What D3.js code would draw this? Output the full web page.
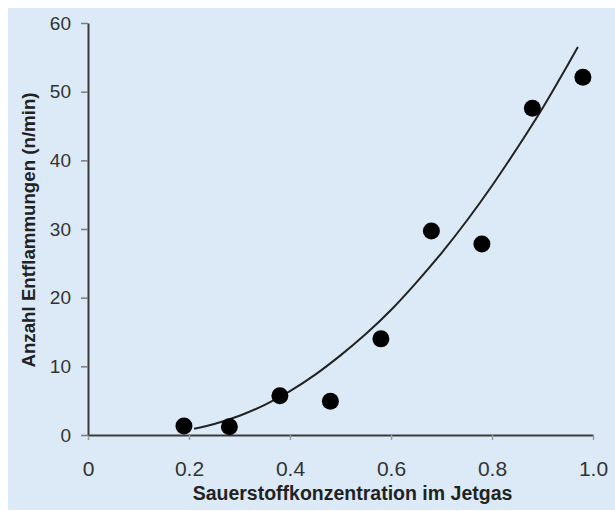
<!DOCTYPE html>
<html>
<head>
<meta charset="utf-8">
<script src="https://cdn.jsdelivr.net/npm/d3@7"></script>
<style>
  body { margin: 0; background: #fff; }
  svg { display: block; }
</style>
</head>
<body>
<div id="chart"></div>
<script>
// Measured points: oxygen concentration vs. ignitions per minute
var concentration = [0.19, 0.28, 0.38, 0.48, 0.58, 0.68, 0.78, 0.88, 0.98];
var ignitions = [1.3, 1.2, 5.7, 4.9, 14.0, 29.7, 27.8, 47.6, 52.1];

// Trend curve
var curveX = [0.21, 0.25, 0.30, 0.35, 0.40, 0.45, 0.50, 0.55, 0.60, 0.65, 0.70, 0.75, 0.80, 0.85, 0.90, 0.95, 0.97];
var curveY = [0.9, 1.6, 2.8, 4.4, 6.4, 8.8, 11.6, 14.7, 18.2, 22.2, 26.5, 31.2, 36.3, 41.8, 47.6, 53.9, 56.5];

var xTicks = [0, 0.2, 0.4, 0.6, 0.8, 1.0];
var yTicks = [0, 10, 20, 30, 40, 50, 60];

var svgWidth = 615;
var svgHeight = 511;

var margin = { top: 23, right: 22, bottom: 76, left: 88 };
var width = svgWidth - margin.left - margin.right;
var height = svgHeight - margin.top - margin.bottom;

var svg = d3.select("#chart")
  .append("svg")
  .attr("width", svgWidth)
  .attr("height", svgHeight);

// light blue panel
svg.append("rect")
  .attr("x", 8)
  .attr("y", 8)
  .attr("width", svgWidth - 8)
  .attr("height", svgHeight - 9)
  .attr("fill", "#dceaf7");

var chartGroup = svg.append("g")
  .attr("transform", `translate(${margin.left}, ${margin.top})`);

var xScale = d3.scaleLinear().domain([0, 1]).range([0, width]);
var yScale = d3.scaleLinear().domain([0, 60]).range([height, 0]);

// x axis
var bottomAxis = d3.axisBottom(xScale)
  .tickValues(xTicks)
  .tickFormat(d => d === 0 ? "0" : d3.format(".1f")(d))
  .tickSizeInner(5)
  .tickSizeOuter(0)
  .tickPadding(21);

var xAxis = chartGroup.append("g")
  .attr("transform", `translate(0, ${height})`)
  .call(bottomAxis);

xAxis.select(".domain").attr("stroke", "#3a3a3a").attr("stroke-width", 2);
xAxis.selectAll(".tick line").attr("stroke", "#9a9a9a").attr("stroke-width", 1.5);
xAxis.selectAll(".tick text")
  .attr("fill", "#333")
  .attr("font-family", "Liberation Sans Narrow, Arial Narrow, sans-serif")
  .attr("font-size", "21px");

// y axis
var leftAxis = d3.axisLeft(yScale)
  .tickValues(yTicks)
  .tickSizeInner(7)
  .tickSizeOuter(0)
  .tickPadding(10);

var yAxis = chartGroup.append("g").call(leftAxis);

yAxis.select(".domain").attr("stroke", "#3a3a3a").attr("stroke-width", 2);
yAxis.selectAll(".tick line").attr("stroke", "#7a7a7a").attr("stroke-width", 1.5);
yAxis.selectAll(".tick text")
  .attr("fill", "#333")
  .attr("font-family", "Liberation Sans, Arial, sans-serif")
  .attr("font-size", "19px");

// trend curve
var curveData = curveX.map((x, i) => ({ x: x, y: curveY[i] }));
var line = d3.line()
  .x(d => xScale(d.x))
  .y(d => yScale(d.y))
  .curve(d3.curveCatmullRom);

chartGroup.append("path")
  .datum(curveData)
  .attr("d", line)
  .attr("fill", "none")
  .attr("stroke", "#222")
  .attr("stroke-width", 2);

// points
var pointData = concentration.map((x, i) => ({ x: x, y: ignitions[i] }));
chartGroup.selectAll("circle")
  .data(pointData)
  .enter()
  .append("circle")
  .attr("cx", d => xScale(d.x))
  .attr("cy", d => yScale(d.y))
  .attr("r", 8.5)
  .attr("fill", "#000");

// axis titles
chartGroup.append("text")
  .attr("x", width / 2 + 12)
  .attr("y", height + 65)
  .attr("text-anchor", "middle")
  .attr("font-family", "Liberation Sans, Arial, sans-serif")
  .attr("font-weight", "bold")
  .attr("font-size", "19.5px")
  .attr("fill", "#222")
  .text("Sauerstoffkonzentration im Jetgas");

chartGroup.append("text")
  .attr("transform", "rotate(-90)")
  .attr("x", 0 - 207)
  .attr("y", 0 - 53)
  .attr("text-anchor", "middle")
  .attr("font-family", "Liberation Sans, Arial, sans-serif")
  .attr("font-weight", "bold")
  .attr("font-size", "18.7px")
  .attr("fill", "#222")
  .text("Anzahl Entflammungen (n/min)");
</script>
</body>
</html>
